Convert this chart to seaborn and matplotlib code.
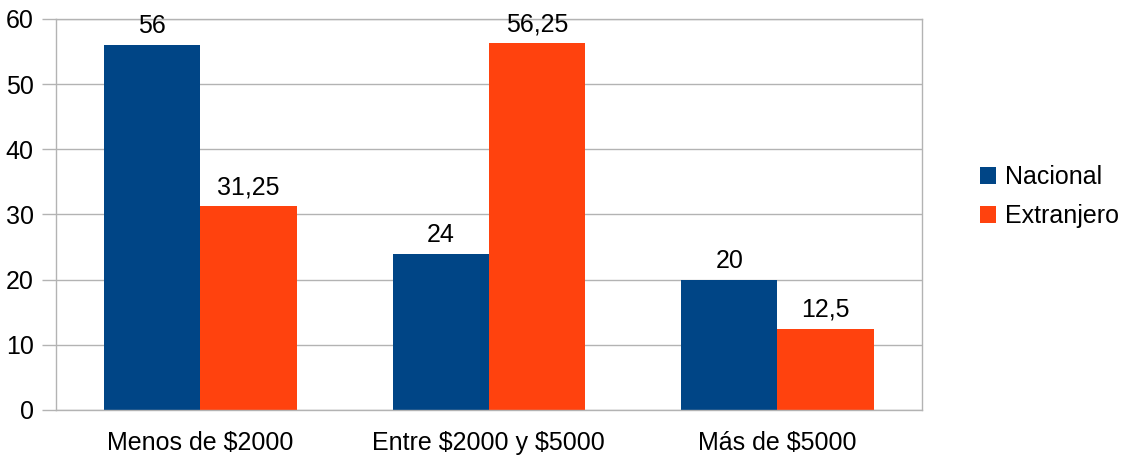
import pandas as pd
import matplotlib.pyplot as plt
import seaborn as sns

# Chart data
categories = ["Menos de $2000", "Entre $2000 y $5000", "Más de $5000"]
series_names = ["Nacional", "Extranjero"]
nacional = [56, 24, 20]
extranjero = [31.25, 56.25, 12.5]

df = pd.DataFrame({
    "Rango": categories * 2,
    "Origen": [series_names[0]] * 3 + [series_names[1]] * 3,
    "Valor": nacional + extranjero,
})

sns.set_style("white")
plt.rcParams["font.family"] = ["Liberation Sans", "DejaVu Sans"]
plt.rcParams["text.parse_math"] = False  # keep the $ signs literal
plt.rcParams["text.color"] = "black"
plt.rcParams["xtick.labelcolor"] = "black"
plt.rcParams["ytick.labelcolor"] = "black"

grid_color = "#b3b3b3"
palette = {"Nacional": "#004586", "Extranjero": "#ff420e"}
fs = 18

fig = plt.figure(figsize=(11.31, 4.63), dpi=100)
ax = fig.add_axes([0.0495, 0.1145, 0.7655, 0.8445])

sns.barplot(data=df, x="Rango", y="Valor", hue="Origen", palette=palette,
            width=0.667, saturation=1, ax=ax, linewidth=0)

# Data labels with comma as decimal separator
for cont in ax.containers:
    vals = cont.datavalues
    ax.bar_label(cont, labels=[f"{v:g}".replace(".", ",") for v in vals],
                 padding=5, fontsize=fs, color="black")

ax.set_ylim(0, 60)
ax.set_xlim(-0.5, 2.5)
ax.set_yticks(range(0, 61, 10))
ax.yaxis.grid(True, color=grid_color, linewidth=1)
ax.set_axisbelow(True)
ax.set_xlabel("")
ax.set_ylabel("")

# ticks at category boundaries
ax.set_xticks([-0.5, 0.5, 1.5, 2.5], minor=True)
ax.tick_params(axis="x", which="major", length=0, labelsize=fs, pad=15)
ax.tick_params(axis="x", which="minor", length=10, color=grid_color, width=1)
ax.tick_params(axis="y", which="major", length=10, color=grid_color, width=1,
               labelsize=fs, pad=6, left=True)
for s in ax.spines.values():
    s.set_color(grid_color)
    s.set_linewidth(1)

ax.legend(loc="center left", bbox_to_anchor=(0.8464, 0.575),
          bbox_transform=fig.transFigure, frameon=False,
          fontsize=fs, handlelength=0.64, handleheight=0.64,
          handletextpad=0.36, labelspacing=0.6)

plt.savefig("out.png", dpi=100)
